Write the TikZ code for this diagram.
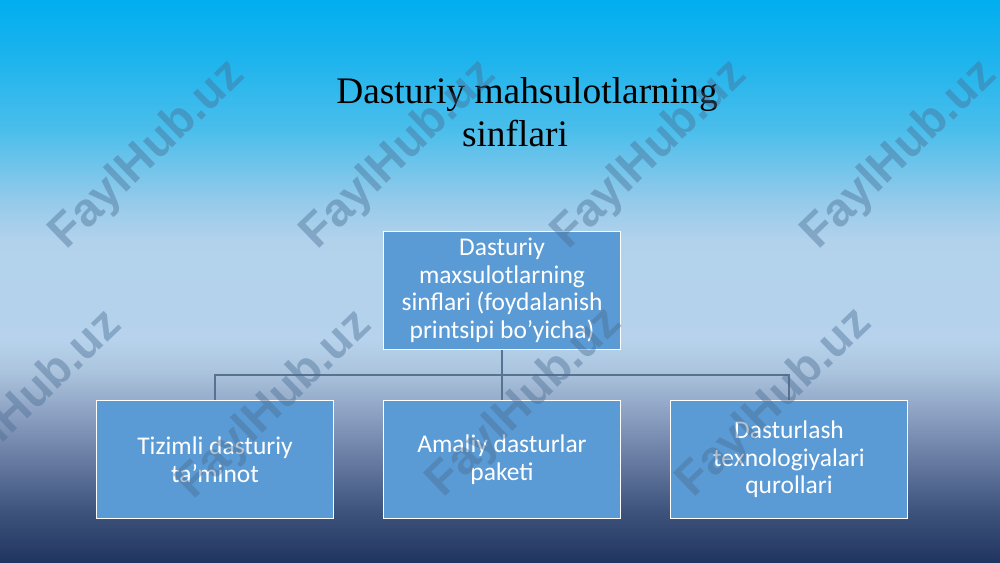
\documentclass[tikz,border=0pt]{standalone}
\usepackage{fontspec}
\setmainfont{Liberation Serif}
\newfontfamily\boxfont{Carlito}
\newfontfamily\wmfont{Liberation Sans}
\definecolor{s0}{RGB}{0,174,239}
\definecolor{s1}{RGB}{30,180,237}
\definecolor{s2}{RGB}{75,190,235}
\definecolor{s3}{RGB}{148,202,234}
\definecolor{s4}{RGB}{178,210,236}
\definecolor{s5}{RGB}{182,210,236}
\definecolor{s6}{RGB}{172,197,222}
\definecolor{s7}{RGB}{135,155,190}
\definecolor{s8}{RGB}{95,115,155}
\definecolor{s9}{RGB}{62,84,124}
\definecolor{s10}{RGB}{32,52,96}
\definecolor{boxblue}{RGB}{91,155,213}
\definecolor{connc}{RGB}{88,114,145}
\definecolor{wmcol}{RGB}{72,108,146}
\begin{document}
\begin{tikzpicture}[x=0.02cm,y=-0.02cm,
  titletext/.style={anchor=base,inner sep=0pt,font=\fontsize{21.3}{24.5}\selectfont,text=black},
  boxnode/.style={draw=white,line width=0.8pt,fill=boxblue,minimum width=238*0.02cm-0.8pt,minimum height=119*0.02cm-0.8pt,inner sep=0pt,align=center,text=white,font=\boxfont\fontsize{14.5}{15.65}\selectfont},
  conn/.style={draw=connc,line width=0.7pt},
  wm/.style={text=wmcol,opacity=0.42,rotate=44,inner sep=0pt,font=\wmfont\bfseries\fontsize{26.7}{30}\selectfont}]
\clip (0,0) rectangle (1000,562);
\shade[top color=s0,bottom color=s1] (0,-1) rectangle (1000,60.5);
\shade[top color=s1,bottom color=s2] (0,60) rectangle (1000,130.5);
\shade[top color=s2,bottom color=s3] (0,130) rectangle (1000,200.5);
\shade[top color=s3,bottom color=s4] (0,200) rectangle (1000,240.5);
\shade[top color=s4,bottom color=s5] (0,240) rectangle (1000,340.5);
\shade[top color=s5,bottom color=s6] (0,340) rectangle (1000,370.5);
\shade[top color=s6,bottom color=s7] (0,370) rectangle (1000,420.5);
\shade[top color=s7,bottom color=s8] (0,420) rectangle (1000,470.5);
\shade[top color=s8,bottom color=s9] (0,470) rectangle (1000,510.5);
\shade[top color=s9,bottom color=s10] (0,510) rectangle (1000,563);

\node[titletext] (t1) at (527,103) {Dasturiy mahsulotlarning};
\node[titletext] (t2) at (515,146) {sinflari};

\node[boxnode] (top) at (502,290.5) {Dasturiy\\maxsulotlarning\\sinflari (foydalanish\\printsipi bo’yicha)};
\node[boxnode] (b1) at (215,459.5) {Tizimli dasturiy\\ta’minot};
\node[boxnode] (b2) at (502,459.5) {Amaliy dasturlar\\paketi};
\node[boxnode] (b3) at (789,459.5) {Dasturlash\\texnologiyalari\\qurollari};

\coordinate (hub) at (502,375);
\draw[conn] (top.south) -- (hub);
\draw[conn] (hub) -| (b1.north);
\draw[conn] (hub) -| (b3.north);
\draw[conn] (hub) -- (b2.north);

\node[wm] (wm1) at (148,155) {FaylHub.uz};
\node[wm] (wm2) at (399,155) {FaylHub.uz};
\node[wm] (wm3) at (650,155) {FaylHub.uz};
\node[wm] (wm4) at (900,155) {FaylHub.uz};
\node[wm] (wm5) at (25,405) {FaylHub.uz};
\node[wm] (wm6) at (275,405) {FaylHub.uz};
\node[wm] (wm7) at (525,403) {FaylHub.uz};
\node[wm] (wm8) at (775,403) {FaylHub.uz};
\end{tikzpicture}
\end{document}
